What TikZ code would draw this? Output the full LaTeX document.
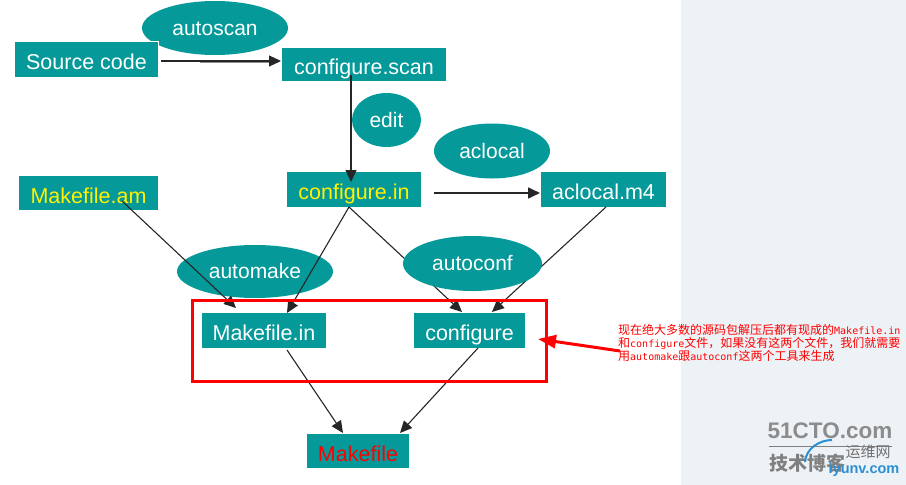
\documentclass[tikz,border=0pt]{standalone}
\usepackage{fontspec}
\setmainfont{Liberation Sans}
\newfontfamily\cjk{Noto Sans CJK SC}
\newfontfamily\monof{DejaVu Sans Mono}
\usetikzlibrary{arrows.meta,shapes.geometric}
\definecolor{teal1}{HTML}{059999}
\definecolor{panel}{HTML}{EDF2F6}
\definecolor{wmblue}{HTML}{2A8FD6}
\tikzset{
  stepbox/.style={fill=teal1,text=white,font=\fontsize{21.5}{23}\selectfont,inner sep=0pt,minimum height=34pt,text height=20.5pt,text depth=0pt},
  oval/.style={ellipse,fill=teal1,text=white,font=\fontsize{21}{23}\selectfont,inner sep=0pt,text height=14.5pt,text depth=0pt},
  conn/.style={draw=black!85,line width=1.1pt,-{Triangle[length=12pt,width=11pt]}},
  note/.style={text=red,font=\cjk\fontsize{12}{12.6}\selectfont,align=left,inner sep=0pt,anchor=north west},
}
\newcommand{\ml}[1]{{\monof\fontsize{10}{12}\selectfont #1}}
\begin{document}
\begin{tikzpicture}[x=1pt,y=-1pt]
\useasboundingbox (0,0) rectangle (906,485);
\fill[panel] (681,0) rectangle (906,485);
% ellipses below the lines
\node[oval,minimum width=146pt,minimum height=54pt] (autoscan) at (215,28) {autoscan};
\node[oval,minimum width=69pt,minimum height=54pt] (edit) at (386.5,120) {edit};
\node[oval,minimum width=116pt,minimum height=55pt] (aclocal) at (492,151) {aclocal};
\node[oval,minimum width=156pt,minimum height=53pt] (automake) at (255,271.5) {automake};
% boxes
\node[stepbox,draw=white,line width=1pt,minimum width=144pt,minimum height=36pt] (src) at (86.5,59.5) {Source code};
\node[stepbox,minimum width=164pt,minimum height=33pt] (scan) at (364,64.5) {configure.scan};
\node[stepbox,minimum width=139pt] (mam) at (88.5,193) {\textcolor{yellow}{Makefile.am}};
\node[stepbox,minimum width=134pt,minimum height=35pt] (cin) at (354,189.5) {\textcolor{yellow}{configure.in}};
\node[stepbox,minimum width=125pt,minimum height=35pt] (m4) at (603.5,189.5) {aclocal.m4};
\node[stepbox,minimum width=124pt,minimum height=35pt] (min) at (264,330.5) {Makefile.in};
\node[stepbox,minimum width=111pt,minimum height=35pt] (conf) at (469.5,330.5) {configure};
\node[stepbox,minimum width=102pt] (mk) at (358,451) {\textcolor{red}{Makefile}};
% connector end points
\coordinate (srcE) at (161,61);
\coordinate (scanW) at (281,61);
\coordinate (scanS) at (351,75);
\coordinate (cinN) at (351,182);
\coordinate (cinE) at (434,193);
\coordinate (m4W) at (540,193);
\coordinate (mamS) at (122,201);
\coordinate (minN1) at (236,308);
\coordinate (cinS) at (349,207);
\coordinate (minN2) at (287,313);
\coordinate (confN1) at (462,312);
\coordinate (m4S) at (606,207);
\coordinate (confN2) at (492,312);
\coordinate (minS) at (287,350);
\coordinate (mkN1) at (343,433);
\coordinate (confS) at (478,348);
\coordinate (mkN2) at (400,433);
\coordinate (shadowA) at (200,62.5);
\coordinate (shadowB) at (272,62.5);
% connectors
\draw[draw=black!45,line width=1.4pt] (shadowA) -- (shadowB);
\draw[conn] (srcE) -- (scanW);
\draw[conn] (scanS) -- (cinN);
\draw[conn,line width=1.6pt] (cinE) -- (m4W);
\draw[conn] (mamS) -- (minN1);
\draw[conn] (cinS) -- (minN2);
\draw[conn] (cinS) -- (confN1);
\draw[conn] (m4S) -- (confN2);
\draw[conn] (minS) -- (mkN1);
\draw[conn] (confS) -- (mkN2);
% ellipse above the lines
\node[oval,minimum width=139pt,minimum height=55pt] (autoconf) at (472.5,263.5) {autoconf};
% red frame and note
\node[draw=red,line width=3pt,minimum width=354pt,minimum height=81pt,inner sep=0pt] (frame) at (369.5,341) {};
\node[note] (txt) at (618,324.5) {现在绝大多数的源码包解压后都有现成的\ml{Makefile.in}\\和\ml{configure}文件，如果没有这两个文件，我们就需要\\用\ml{automake}跟\ml{autoconf}这两个工具来生成};
\coordinate (noteW) at (620,351);
\coordinate (frameE) at (538,339);
\draw[draw=red,line width=3pt,-{Triangle[length=18pt,width=13pt]}] (noteW) -- (frameE);
% watermark
\coordinate (ruleA) at (769,446);
\coordinate (ruleB) at (892,446);
\coordinate (swooshA) at (805,462);
\coordinate (swooshB) at (832,440);
\draw[draw=black!50,line width=1pt] (ruleA) -- (ruleB);
\node[text=black!45,font=\bfseries\fontsize{22.5}{25}\selectfont,inner sep=0pt] (wm1) at (830,431) {51CTO.com};
\node[text=black!50,font=\cjk\bfseries\fontsize{19}{20}\selectfont,inner sep=0pt] (wm2) at (807,463) {技术博客};
\draw[draw=wmblue,line width=2pt] (swooshA) .. controls (806,448) and (820,440) .. (swooshB);
\node[text=black!55,font=\cjk\fontsize{15}{16}\selectfont,inner sep=0pt] (wm3) at (868,452) {运维网};
\node[text=wmblue,font=\bfseries\fontsize{14.5}{15}\selectfont,inner sep=0pt] (wm4) at (864,470) {iyunv.com};
\end{tikzpicture}
\end{document}
